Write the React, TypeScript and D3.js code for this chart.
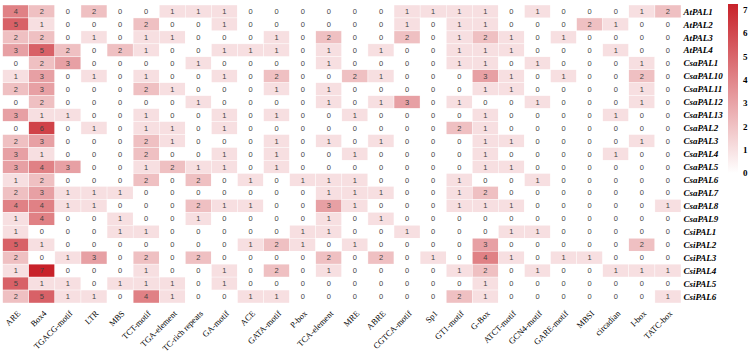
import React from "react";
import * as d3 from "d3";

const rowLabels = [
  "AtPAL1", "AtPAL2", "AtPAL3", "AtPAL4", "CsaPAL1", "CsaPAL10", "CsaPAL11", "CsaPAL12",
  "CsaPAL13", "CsaPAL2", "CsaPAL3", "CsaPAL4", "CsaPAL5", "CsaPAL6", "CsaPAL7", "CsaPAL8",
  "CsaPAL9", "CsiPAL1", "CsiPAL2", "CsiPAL3", "CsiPAL4", "CsiPAL5", "CsiPAL6",
];

const colLabels = [
  "ARE", "Box4", "TGACG-motif", "LTR", "MBS", "TCT-motif", "TGA-element", "TC-rich repeats",
  "GA-motif", "ACE", "GATA-motif", "P-box", "TCA-element", "MRE", "ABRE", "CGTCA-motif",
  "Sp1", "GT1-motif", "G-Box", "ATCT-motif", "GCN4-motif", "GARE-motif", "MBSI",
  "circadian", "I-box", "TATC-box",
];

const values: number[][] = [
  [4, 2, 0, 2, 0, 0, 1, 1, 1, 0, 0, 0, 0, 0, 0, 1, 1, 1, 1, 0, 1, 0, 0, 0, 1, 2],
  [5, 1, 0, 0, 0, 2, 0, 0, 1, 0, 0, 0, 0, 0, 0, 1, 0, 1, 1, 0, 0, 0, 2, 1, 0, 0],
  [2, 2, 0, 1, 0, 1, 1, 0, 0, 0, 1, 0, 2, 0, 0, 2, 0, 1, 2, 1, 0, 1, 0, 0, 0, 0],
  [3, 5, 2, 0, 2, 1, 0, 0, 1, 1, 1, 0, 1, 0, 1, 0, 0, 1, 1, 1, 0, 0, 0, 1, 0, 0],
  [0, 2, 3, 0, 0, 0, 0, 1, 0, 0, 0, 0, 1, 0, 0, 0, 0, 1, 1, 0, 1, 0, 0, 0, 1, 0],
  [1, 3, 0, 1, 0, 1, 0, 0, 1, 0, 2, 0, 0, 2, 1, 0, 0, 0, 3, 1, 0, 1, 0, 0, 2, 0],
  [2, 3, 0, 0, 0, 2, 1, 0, 0, 0, 1, 0, 1, 0, 0, 0, 0, 0, 1, 1, 0, 0, 0, 0, 1, 0],
  [0, 2, 0, 0, 0, 0, 0, 1, 0, 0, 0, 0, 1, 0, 1, 3, 0, 1, 0, 0, 1, 0, 0, 0, 1, 0],
  [3, 1, 1, 0, 0, 1, 0, 0, 1, 0, 1, 0, 0, 1, 0, 0, 0, 0, 1, 0, 0, 0, 0, 1, 0, 0],
  [0, 6, 0, 1, 0, 1, 1, 0, 1, 0, 0, 0, 0, 0, 0, 0, 0, 2, 1, 0, 0, 0, 0, 0, 0, 0],
  [2, 3, 0, 0, 0, 2, 1, 0, 0, 0, 1, 0, 1, 0, 1, 0, 0, 0, 1, 1, 0, 0, 0, 0, 1, 0],
  [3, 1, 0, 0, 0, 2, 0, 0, 1, 0, 1, 0, 0, 1, 0, 0, 0, 0, 1, 0, 0, 0, 0, 1, 0, 0],
  [3, 4, 3, 0, 0, 1, 2, 1, 1, 0, 1, 0, 0, 0, 0, 0, 0, 0, 1, 1, 0, 0, 0, 0, 0, 0],
  [1, 2, 0, 0, 0, 2, 0, 2, 0, 1, 0, 1, 1, 1, 0, 0, 0, 1, 0, 0, 1, 0, 0, 0, 0, 0],
  [2, 3, 1, 1, 1, 0, 0, 0, 0, 0, 0, 0, 1, 1, 1, 0, 0, 1, 2, 0, 0, 0, 0, 0, 0, 0],
  [4, 4, 1, 1, 0, 0, 0, 2, 1, 1, 0, 0, 3, 1, 0, 0, 0, 1, 1, 1, 0, 0, 0, 0, 0, 1],
  [1, 4, 0, 0, 1, 0, 0, 1, 0, 0, 0, 0, 1, 0, 1, 0, 0, 0, 0, 0, 0, 0, 0, 0, 0, 0],
  [1, 0, 0, 0, 1, 1, 0, 0, 0, 0, 0, 1, 1, 0, 0, 1, 0, 0, 0, 1, 1, 0, 0, 0, 0, 0],
  [5, 1, 0, 0, 0, 0, 0, 0, 0, 1, 2, 1, 0, 1, 0, 0, 0, 0, 3, 0, 0, 0, 0, 0, 2, 0],
  [2, 0, 1, 3, 0, 2, 0, 2, 0, 0, 0, 0, 2, 0, 2, 0, 1, 0, 4, 1, 0, 1, 1, 0, 0, 0],
  [1, 7, 0, 0, 0, 1, 0, 0, 1, 0, 2, 0, 1, 0, 0, 0, 0, 1, 2, 0, 1, 0, 0, 1, 1, 1],
  [5, 1, 1, 0, 1, 1, 1, 0, 1, 0, 0, 0, 0, 0, 0, 0, 0, 0, 1, 0, 0, 0, 0, 0, 0, 0],
  [2, 5, 1, 1, 0, 4, 1, 0, 0, 1, 1, 0, 0, 0, 0, 0, 0, 2, 1, 0, 0, 0, 0, 0, 0, 1],
];

const legendTicks = [0, 1, 2, 3, 4, 5, 6, 7];

export default function App() {
  const W = 750;
  const H = 353;
  const x0 = 2.7;
  const x1 = 681;
  const y0 = 5;
  const y1 = 303;

  const x = d3.scaleBand<string>().domain(colLabels).range([x0, x1]).padding(0);
  const y = d3.scaleBand<string>().domain(rowLabels).range([y0, y1]).padding(0);
  const color = d3
    .scaleLinear<string>()
    .domain([0, 7])
    .range(["#ffffff", "#c8222a"])
    .interpolate(d3.interpolateRgb);

  const legY = d3.scaleLinear().domain([0, 7]).range([173, 10]);
  const legX = 728;
  const legW = 10;

  const cells: React.ReactNode[] = [];
  const texts: React.ReactNode[] = [];
  values.forEach((row, ri) => {
    row.forEach((v, ci) => {
      const cx = x(colLabels[ci])!;
      const cy = y(rowLabels[ri])!;
      cells.push(
        <rect
          key={`c${ri}-${ci}`}
          x={cx}
          y={cy}
          width={x.bandwidth()}
          height={y.bandwidth()}
          fill={color(v)}
          stroke="#ffffff"
          strokeWidth={0.4}
        />
      );
      texts.push(
        <text
          key={`t${ri}-${ci}`}
          x={cx + x.bandwidth() / 2}
          y={cy + y.bandwidth() / 2}
          dy="0.35em"
          textAnchor="middle"
          fontFamily="Arial, 'Liberation Sans', sans-serif"
          fontSize={7.5}
          fill="#444444"
        >
          {v}
        </text>
      );
    });
  });

  return (
    <svg
      width={W}
      height={H}
      style={{ position: "absolute", left: 0, top: 0, background: "#ffffff" }}
    >
      <defs>
        <linearGradient id="leg" x1="0" y1="1" x2="0" y2="0">
          <stop offset="0%" stopColor={color(0)} />
          <stop offset="100%" stopColor={color(7)} />
        </linearGradient>
      </defs>
      <g>{cells}</g>
      <g>{texts}</g>
      <g>
        {rowLabels.map((r) => (
          <text
            key={r}
            x={x1 + 2.5}
            y={y(r)! + y.bandwidth() / 2}
            dy="0.35em"
            fontFamily="'Liberation Serif', 'Times New Roman', serif"
            fontStyle="italic"
            fontWeight="bold"
            fontSize={9}
            fill="#000"
          >
            {r}
          </text>
        ))}
      </g>
      <g>
        {colLabels.map((c) => {
          const cx = x(c)! + x.bandwidth() / 2 + 3;
          const cy = 312;
          return (
            <text
              key={c}
              transform={`translate(${cx},${cy}) rotate(-45)`}
              textAnchor="end"
              dy="0.35em"
              fontFamily="'Liberation Serif', 'Times New Roman', serif"
              fontSize={8.5}
              fill="#000"
            >
              {c}
            </text>
          );
        })}
      </g>
      <g>
        <rect x={legX} y={legY(7) - 6} width={legW} height={legY(0) - legY(7) + 6} fill="url(#leg)" />
        {legendTicks.map((t) => (
          <text
            key={t}
            x={legX + legW + 5}
            y={legY(t)}
            dy="0.35em"
            fontFamily="'Liberation Serif', 'Times New Roman', serif"
            fontWeight="bold"
            fontSize={9}
            fill="#000"
          >
            {t}
          </text>
        ))}
      </g>
    </svg>
  );
}
